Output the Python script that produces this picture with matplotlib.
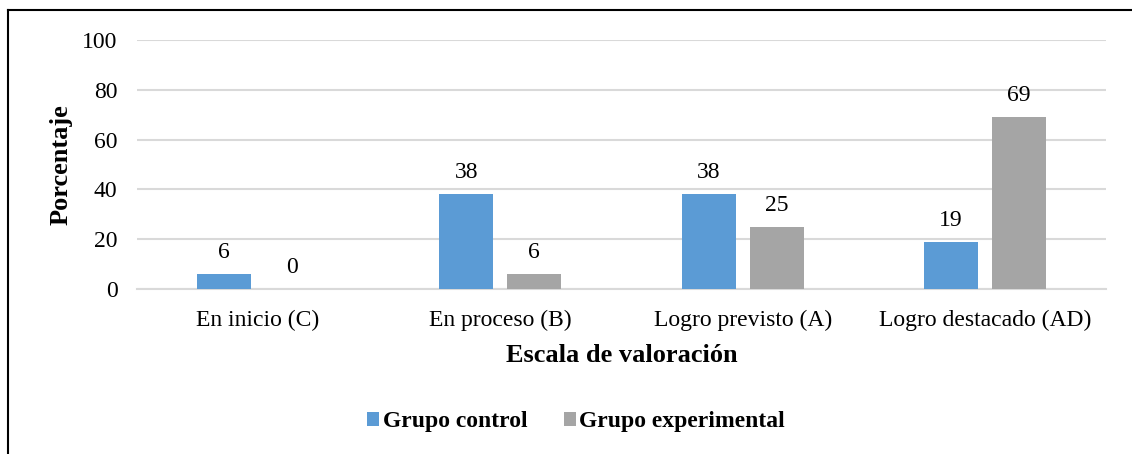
import numpy as np
import matplotlib.pyplot as plt
from matplotlib.lines import Line2D

categorias = ["En inicio (C)", "En proceso (B)", "Logro previsto (A)", "Logro destacado (AD)"]
grupo_control = [6, 38, 38, 19]
grupo_experimental = [0, 6, 25, 69]

plt.rcParams['font.family'] = ['Liberation Serif', 'DejaVu Serif']

fig = plt.figure(figsize=(11.32, 4.54), dpi=100)
ax = fig.add_axes([137/1132, 1-289/454, (1106-137)/1132, (289-40)/454])

x = np.arange(len(categorias))
w = 0.223
off = 0.14
b1 = ax.bar(x - off, grupo_control, w, color='#5B9BD5', label='Grupo control', zorder=3)
b2 = ax.bar(x + off, grupo_experimental, w, color='#A5A5A5', label='Grupo experimental', zorder=3)

for bars, vals in [(b1, grupo_control), (b2, grupo_experimental)]:
    for b, v in zip(bars, vals):
        ax.annotate(str(v), (b.get_x() + b.get_width()/2, v), xytext=(0, 8),
                    textcoords='offset points', ha='center', va='bottom', fontsize=17)

ax.set_xlim(-0.5, 3.5)
ax.set_ylim(0, 100)
ax.set_yticks(range(0, 101, 20))
ax.set_xticks(x)
ax.set_xticklabels(categorias, fontsize=17)
ax.tick_params(axis='y', labelsize=17, length=0, pad=14)
ax.tick_params(axis='x', length=0, pad=15)
ax.grid(axis='y', color='#D9D9D9', linewidth=1.5, zorder=0)
for s in ['top', 'right', 'left']:
    ax.spines[s].set_visible(False)
ax.spines['bottom'].set_color('#D9D9D9')
ax.spines['bottom'].set_linewidth(1.5)

ax.set_xlabel("Escala de valoración", fontsize=19, fontweight='bold', labelpad=9.5)
ax.set_ylabel("Porcentaje", fontsize=19, fontweight='bold', labelpad=7)

fig.legend(loc='center', bbox_to_anchor=(576/1132, 1-422/454), ncol=2, frameon=False,
           prop={'size': 17, 'weight': 'bold'}, handlelength=0.5, handleheight=0.5,
           handletextpad=0.15, columnspacing=1.55)

# marco exterior (solo visible arriba e izquierda)
fig.add_artist(Line2D([8/1132, 1], [1-10/454, 1-10/454], color='black', linewidth=1.5, transform=fig.transFigure))
fig.add_artist(Line2D([8/1132, 8/1132], [0, 1-10/454], color='black', linewidth=1.5, transform=fig.transFigure))

fig.savefig('out.png', dpi=100)
